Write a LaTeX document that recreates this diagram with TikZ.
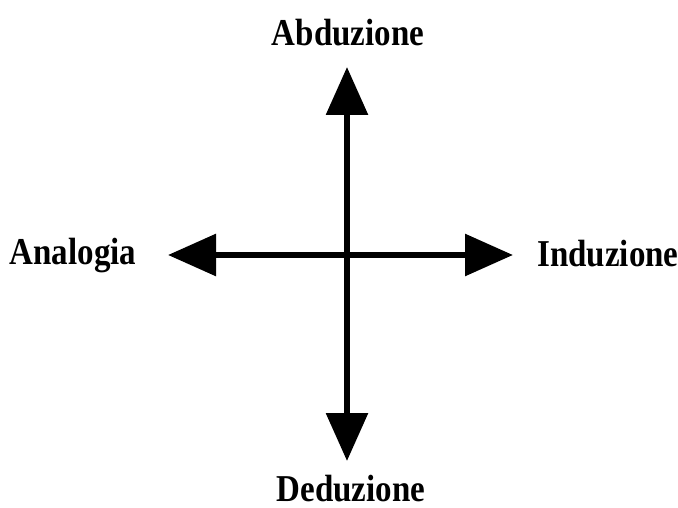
\documentclass[tikz,border=0pt]{standalone}
\usepackage{fontspec}
\usepackage{graphicx}
\setmainfont{Liberation Serif}
\usetikzlibrary{arrows.meta}
\newcommand{\tallbold}[1]{\scalebox{1}[1.15]{\fontsize{33}{36}\selectfont\bfseries #1}}
\begin{document}
\begin{tikzpicture}[x=1pt,y=-1pt,
  lbl/.style={inner sep=0pt, anchor=base},
  axis/.style={line width=6pt, -{Triangle[length=48pt,width=41pt]}}]
\useasboundingbox (0,0) rectangle (678,508);
\coordinate (c) at (347,255);
\coordinate (t) at (347,67);
\coordinate (b) at (347,461);
\coordinate (l) at (168,255);
\coordinate (r) at (513,255);
\node[lbl] (abd) at (348,46) {\tallbold{Abduzione}};
\node[lbl] (ana) at (73,264) {\tallbold{Analogia}};
\node[lbl] (ind) at (608,266) {\tallbold{Induzione}};
\node[lbl] (ded) at (351,501) {\tallbold{Deduzione}};
\draw[axis] (c) -- (t);
\draw[axis] (c) -- (b);
\draw[axis] (c) -- (l);
\draw[axis] (c) -- (r);
\end{tikzpicture}
\end{document}
